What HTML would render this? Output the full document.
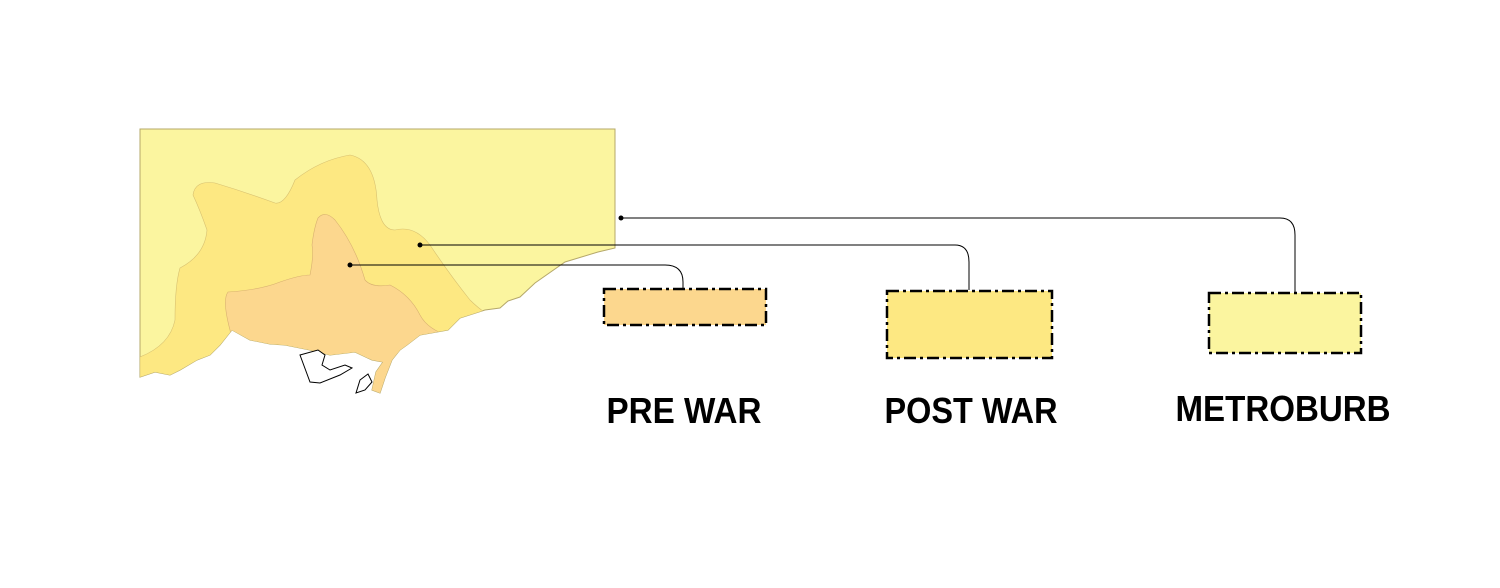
<!DOCTYPE html>
<html><head><meta charset="utf-8"><style>html,body{margin:0;padding:0;background:#fff}svg{display:block}</style></head>
<body>
<svg width="1500" height="588" viewBox="0 0 1500 588" xmlns="http://www.w3.org/2000/svg">
<defs>
<clipPath id="land"><path d="M140,129 L615,129 L615,248 L598,252 L565,262 L535,283 L520,297 L508,301 L500,308 L485,310 L460,318 L448,330 L420,335 L407,345 L400,350 L392,360 L385,378 L380,393 L372,390 L376,372 L383,362 L372,360 L355,352 L330,355 L310,350 L285,345 L270,344 L250,340 L232,330 L228,335 L220,345 L210,355 L197,360 L180,370 L170,375 L155,372 L140,377 Z"/></clipPath>
</defs>
<path d="M140,129 L615,129 L615,248 L598,252 L565,262 L535,283 L520,297 L508,301 L500,308 L485,310 L460,318 L448,330 L420,335 L407,345 L400,350 L392,360 L385,378 L380,393 L372,390 L376,372 L383,362 L372,360 L355,352 L330,355 L310,350 L285,345 L270,344 L250,340 L232,330 L228,335 L220,345 L210,355 L197,360 L180,370 L170,375 L155,372 L140,377 Z" fill="#fbf59f" stroke="#b5a86a" stroke-width="1"/>
<g clip-path="url(#land)">
<path d="M193,195 Q195,180 215,183 Q245,192 275,203 Q285,205 295,180 Q320,160 350,155 Q375,160 377,200 Q380,230 395,230 Q415,225 430,245 Q450,275 470,300 Q490,320 520,330 L140,400 L140,357 Q170,345 175,320 Q175,285 180,268 Q205,255 207,230 Q200,210 193,195 Z" fill="#fde882" stroke="#d8c070" stroke-width="0.6"/>
<path d="M318,218 Q325,210 335,220 Q355,245 365,280 Q372,288 390,285 Q410,295 420,315 Q428,330 450,336 L420,410 L250,360 Q232,345 230,330 Q222,300 228,292 Q260,290 280,282 Q300,275 310,275 Q314,255 312,245 Q314,228 318,218 Z" fill="#fcd78e" stroke="#d8b070" stroke-width="0.6"/>
</g>
<path d="M300,355 L318,350 L325,355 L322,365 L330,370 L345,365 L352,368 L340,375 L320,383 L310,382 Z" fill="#fff" stroke="#000" stroke-width="1"/>
<path d="M360,380 L368,374 L372,382 L365,390 L356,393 Z" fill="#fff" stroke="#000" stroke-width="1"/>
<g fill="none" stroke="#000" stroke-width="1">
<path d="M621,218 L1280,218 Q1295,218 1295,235 L1295,292"/>
<path d="M420,245 L955,245 Q969,245 969,262 L969,290"/>
<path d="M350,265 L665,265 Q683,265 683,282 L683,289"/>
</g>
<circle cx="621" cy="218" r="2.5"/><circle cx="420" cy="245" r="2.5"/><circle cx="350" cy="265" r="2.5"/>
<g stroke="#000" stroke-width="2.5" stroke-dasharray="12,4,3,4">
<rect x="604" y="289" width="162" height="36" fill="#fcd78e"/>
<rect x="887" y="291" width="165" height="67" fill="#fde882"/>
<rect x="1209" y="293" width="152" height="60" fill="#fbf59f"/>
</g>
<g font-family="Liberation Sans, sans-serif" font-size="36" font-weight="bold" text-anchor="middle" fill="#000">
<text x="684" y="423" textLength="155" lengthAdjust="spacingAndGlyphs">PRE WAR</text>
<text x="971" y="423" textLength="173" lengthAdjust="spacingAndGlyphs">POST WAR</text>
<text x="1283" y="421" textLength="215" lengthAdjust="spacingAndGlyphs">METROBURB</text>
</g>
</svg>
</body></html>
